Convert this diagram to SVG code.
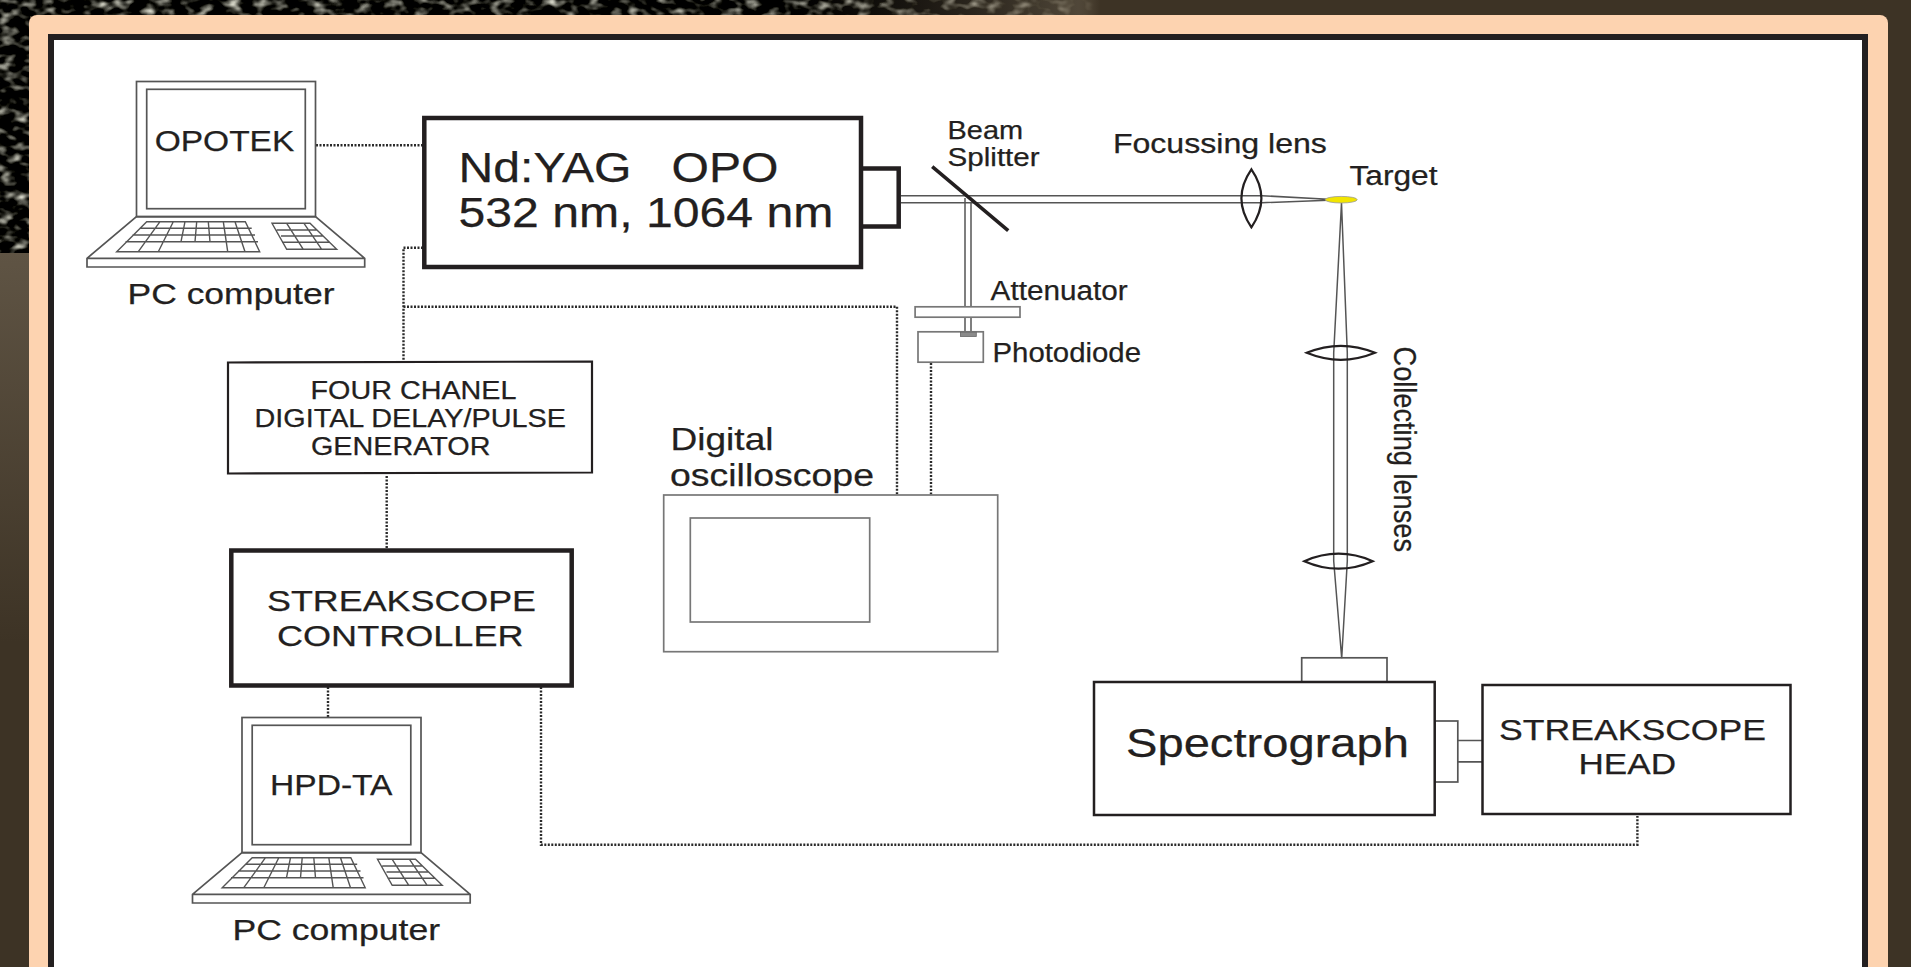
<svg xmlns="http://www.w3.org/2000/svg" width="1911" height="967" viewBox="0 0 1911 967">
<style>
text{font-family:"Liberation Sans",Arial,sans-serif;fill:#231f20;stroke:#231f20;stroke-width:0.25;white-space:pre}
.o{fill:none;stroke:#555;stroke-width:1.7}
.k{fill:none;stroke:#555;stroke-width:1.4}
.b{fill:#fff;stroke:#231f20}
.g{fill:#fff;stroke:#777;stroke-width:1.7}
.ray{fill:none;stroke:#555;stroke-width:1.5}
.lens{fill:none;stroke:#231f20;stroke-width:2.2}
.dot{fill:none;stroke:#2a2a2a;stroke-width:2.4;stroke-dasharray:2 1.5}
</style>
<defs>
<filter id="noise" x="0" y="0" width="100%" height="100%" color-interpolation-filters="sRGB">
<feTurbulence type="fractalNoise" baseFrequency="0.07 0.11" numOctaves="2" seed="7"/>
<feColorMatrix type="matrix" values="2.2 0 0 0 -1.05 2.2 0 0 0 -1.05 2.1 0 0 0 -1.02 0 0 0 0 1"/>
</filter>
<linearGradient id="fade" x1="0" y1="0" x2="1" y2="0">
<stop offset="0" stop-color="#3d3325" stop-opacity="0"/>
<stop offset="0.72" stop-color="#3d3325" stop-opacity="0"/>
<stop offset="0.98" stop-color="#6b5f4c" stop-opacity="0.75"/>
<stop offset="1" stop-color="#3d3325" stop-opacity="1"/>
</linearGradient>
<linearGradient id="leftbg" x1="0" y1="0" x2="0" y2="1">
<stop offset="0" stop-color="#5f5444"/>
<stop offset="1" stop-color="#3d3325"/>
</linearGradient>
<g id="laptop">
<rect class="o" x="136.5" y="81.5" width="179" height="135.2"/>
<rect class="o" x="146.7" y="89.3" width="158.6" height="119.4"/>
<path class="o" d="M136.5 216.7H315.5L364.7 258.3V267H87V258.3ZM87 258.3H364.7"/>
<path class="k" d="M146.7 221.7H245.3L259.7 251.7H116.7ZM139.6 228.3H251.7M132.5 235H255M125.5 241.7H258M160 221.7L138.3 251.7M173.3 221.7L158.3 251.7M185 221.7L181 241.7M196.7 221.7L195 241.7M208.3 221.7L210 241.7M223.3 221.7L227.7 251.7M235 221.7L245 251.7"/>
<path class="k" d="M272 223.3H310L336.7 249.3H286.7ZM276.7 230H316.8M281 236H323M282 242.3H330M286.7 223.3L303.3 249.3M304 223.3L321.7 249.3"/>
</g>
</defs>

<g id="background">
<rect width="1911" height="967" fill="#3d3325"/>
<rect x="0" y="253" width="30" height="390" fill="url(#leftbg)"/>
<rect x="0" y="0" width="30" height="253" filter="url(#noise)"/>
<rect x="0" y="0" width="1100" height="16" filter="url(#noise)"/>
<rect x="0" y="0" width="1100" height="16" fill="url(#fade)"/>
</g>

<g id="frame">
<rect x="29" y="15" width="1859" height="1000" rx="8" fill="#fdd3b0"/>
<rect x="51" y="37" width="1814" height="1000" fill="#fff" stroke="#231f20" stroke-width="6"/>
</g>

<g id="connectors">
<path class="dot" d="M316 145.3H424"/>
<path class="dot" d="M423 247.7H403.5V362"/>
<path class="dot" d="M403.5 306.7H897V495"/>
<path class="dot" d="M931 363V495"/>
<path class="dot" d="M386.7 476V548"/>
<path class="dot" d="M328 687V718"/>
<path class="dot" d="M541 687V844.7H1637.4V816"/>
<path class="ray" d="M901 195.7H1262L1328 199.2M901 202.7H1262L1328 200.2"/>
<path class="ray" d="M965 198V332M971 202V332"/>
<path class="ray" d="M1341.5 203L1333.7 353V561L1341.7 658.3M1341.5 203L1347.3 353V561L1341.7 658.3"/>
</g>

<g id="laptop-opotek">
<use href="#laptop"/>
<text x="154.7" y="150.7" font-size="29" textLength="139.6" lengthAdjust="spacingAndGlyphs">OPOTEK</text>
<text x="127.5" y="303.5" font-size="29" textLength="207" lengthAdjust="spacingAndGlyphs">PC computer</text>
</g>

<g id="laser">
<rect class="b" x="424.3" y="118" width="436.7" height="149" stroke-width="4.5"/>
<path fill="none" stroke="#231f20" stroke-width="4.5" d="M861 168.5H898.7V226.5H861"/>
<text x="458.5" y="181.7" font-size="43" textLength="320" lengthAdjust="spacingAndGlyphs">Nd:YAG   OPO</text>
<text x="458.5" y="226.7" font-size="43" textLength="375" lengthAdjust="spacingAndGlyphs">532 nm, 1064 nm</text>
</g>

<g id="beam-splitter">
<line x1="932.2" y1="166.7" x2="1008.2" y2="230.7" stroke="#231f20" stroke-width="3.6"/>
<text x="947.6" y="138.8" font-size="25" textLength="75.5" lengthAdjust="spacingAndGlyphs">Beam</text>
<text x="947.6" y="165.7" font-size="25" textLength="92" lengthAdjust="spacingAndGlyphs">Splitter</text>
</g>

<g id="focussing-lens">
<path class="lens" d="M1251.4 169.3Q1271.4 198.3 1251.4 227.3Q1231.4 198.3 1251.4 169.3Z"/>
<text x="1112.9" y="153" font-size="27" textLength="214" lengthAdjust="spacingAndGlyphs">Focussing lens</text>
</g>

<g id="target">
<ellipse cx="1341.2" cy="199.7" rx="16" ry="3.3" fill="#f2e500" stroke="#999" stroke-width="0.8"/>
<text x="1349.5" y="185.3" font-size="27" textLength="88" lengthAdjust="spacingAndGlyphs">Target</text>
</g>

<g id="attenuator">
<rect class="g" x="915.1" y="306.8" width="104.900" height="10.4"/>
<text x="990.6" y="300" font-size="27" textLength="137" lengthAdjust="spacingAndGlyphs">Attenuator</text>
</g>

<g id="photodiode">
<rect class="g" x="918" y="331.8" width="65.3" height="30.4"/>
<rect x="960.4" y="332.2" width="15.9" height="4.3" fill="#8a8a8a" stroke="#666" stroke-width="0.8"/>
<text x="992.5" y="361.7" font-size="27" textLength="148.5" lengthAdjust="spacingAndGlyphs">Photodiode</text>
</g>

<g id="collecting-lenses">
<path class="lens" d="M1306.7 352.8Q1340.8 338.8 1375 352.800Q1340.800 366.800 1306.700 352.800Z"/>
<path class="lens" d="M1304.3 561.2Q1338.500 546.200 1372.700 561.200Q1338.500 576.200 1304.300 561.200Z"/>
<text transform="translate(1394 346.5) rotate(90) scale(1 1.1)" font-size="29" textLength="205.5" lengthAdjust="spacingAndGlyphs">Collecting lenses</text>
</g>

<g id="delay-generator">
<path class="b" d="M228 362.5L592 361.5V472.5L228 473.5Z" stroke-width="2.2"/>
<text x="310.5" y="399.3" font-size="25" textLength="206" lengthAdjust="spacingAndGlyphs">FOUR CHANEL</text>
<text x="254.5" y="426.8" font-size="25" textLength="311.5" lengthAdjust="spacingAndGlyphs">DIGITAL DELAY/PULSE</text>
<text x="311" y="454.5" font-size="25" textLength="179.5" lengthAdjust="spacingAndGlyphs">GENERATOR</text>
</g>

<g id="oscilloscope">
<rect class="g" x="663.7" y="495" width="334" height="156.7"/>
<rect class="g" x="690.3" y="518" width="179.4" height="104" stroke-width="2"/>
<text x="670.5" y="450" font-size="32" textLength="103" lengthAdjust="spacingAndGlyphs">Digital</text>
<text x="670" y="486" font-size="32" textLength="204" lengthAdjust="spacingAndGlyphs">oscilloscope</text>
</g>

<g id="streakscope-controller">
<rect class="b" x="231.3" y="550.5" width="340.4" height="135" stroke-width="4.5"/>
<text x="267" y="610.7" font-size="30" textLength="269" lengthAdjust="spacingAndGlyphs">STREAKSCOPE</text>
<text x="277" y="645.7" font-size="30" textLength="246.5" lengthAdjust="spacingAndGlyphs">CONTROLLER</text>
</g>

<g id="laptop-hpd">
<use href="#laptop" x="105.5" y="636"/>
<text x="270" y="794.7" font-size="29" textLength="122.5" lengthAdjust="spacingAndGlyphs">HPD-TA</text>
<text x="232.5" y="940.2" font-size="29" textLength="207.5" lengthAdjust="spacingAndGlyphs">PC computer</text>
</g>

<g id="spectrograph">
<rect class="o" x="1301.7" y="657.8" width="85.3" height="24"/>
<rect class="o" x="1434.7" y="721" width="23.1" height="61"/>
<rect class="b" x="1094" y="682" width="340.7" height="133" stroke-width="2.5"/>
<text x="1126" y="756.5" font-size="41" textLength="283" lengthAdjust="spacingAndGlyphs">Spectrograph</text>
</g>

<g id="streakscope-head">
<path class="o" d="M1457.8 740.5H1482M1457.8 761.8H1482"/>
<rect class="b" x="1482.5" y="685" width="308" height="129" stroke-width="2.5"/>
<text x="1499" y="740" font-size="30" textLength="267" lengthAdjust="spacingAndGlyphs">STREAKSCOPE</text>
<text x="1578.5" y="773.5" font-size="30" textLength="97.5" lengthAdjust="spacingAndGlyphs">HEAD</text>
</g>
</svg>
